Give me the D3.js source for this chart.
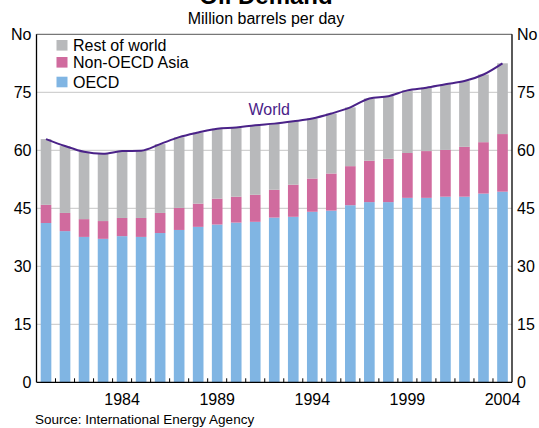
<!DOCTYPE html>
<html><head><meta charset="utf-8">
<script src="https://cdn.jsdelivr.net/npm/d3@7"></script>
<style>
html,body{margin:0;padding:0;background:#fff;}
svg{display:block;font-family:Arial,"Liberation Sans",sans-serif;}
</style></head>
<body><svg id="c" width="539" height="428"></svg>
<script>
const years = d3.range(1980, 2005);
const oecd = [41.2, 39.1, 37.6, 37.1, 37.8, 37.6, 38.6, 39.4, 40.2, 40.8, 41.3, 41.5, 42.6, 42.8, 44.1, 44.4, 45.8, 46.6, 46.6, 47.7, 47.7, 48.0, 48.0, 48.8, 49.3];
const nonOecdAsia = [4.7, 4.7, 4.6, 4.6, 4.7, 4.9, 5.2, 5.7, 6.0, 6.7, 6.7, 7.0, 7.2, 8.3, 8.6, 9.6, 10.1, 10.7, 11.2, 11.6, 12.1, 12.1, 12.9, 13.3, 14.9];
const restOfWorld = [17.0, 17.3, 17.4, 17.4, 17.3, 17.4, 17.8, 18.3, 18.4, 18.1, 17.9, 18.0, 17.1, 16.4, 15.5, 15.5, 15.2, 16.1, 16.2, 16.2, 16.4, 17.0, 17.0, 17.5, 18.3];
const world = [62.9, 61.1, 59.6, 59.1, 59.8, 59.9, 61.6, 63.4, 64.6, 65.6, 65.9, 66.5, 66.9, 67.5, 68.2, 69.5, 71.1, 73.4, 74.0, 75.5, 76.2, 77.1, 77.9, 79.6, 82.5];
const yTicks = [0, 15, 30, 45, 60, 75];
const xLabels = [1984, 1989, 1994, 1999, 2004];
const seriesNames = ["OECD", "Non-OECD Asia", "Rest of world"];
const colors = {"OECD": "#80b5e3", "Non-OECD Asia": "#d06b9e", "Rest of world": "#b8b9bb"};

const svg = d3.select("#c");
const L = 36.5, R = 512, T = 34.3, B = 382.3;
const x = d3.scaleBand().domain(years).range([L, R]).paddingInner(0.44).paddingOuter(0.22);
const y = d3.scaleLinear().domain([0, 90]).range([B, T]);

// titles
svg.append("text").attr("x", 266).attr("y", 4).attr("text-anchor", "middle")
  .attr("font-size", 24).attr("font-weight", "bold").text("Oil Demand");
svg.append("text").attr("x", 266).attr("y", 24).attr("text-anchor", "middle")
  .attr("font-size", 16).text("Million barrels per day");

// gridlines
svg.append("g").selectAll("line").data(yTicks.filter(d => d > 0)).join("line")
  .attr("x1", L).attr("x2", R).attr("y1", d => y(d)).attr("y2", d => y(d))
  .attr("stroke", "#c6c6c6").attr("stroke-width", 1);

// stacked bars
const table = years.map((yr, i) => ({year: yr, "OECD": oecd[i], "Non-OECD Asia": nonOecdAsia[i], "Rest of world": restOfWorld[i]}));
const stack = d3.stack().keys(seriesNames)(table);
svg.append("g").selectAll("g").data(stack).join("g").attr("fill", d => colors[d.key])
  .selectAll("rect").data(d => d).join("rect")
  .attr("x", d => x(d.data.year)).attr("width", x.bandwidth())
  .attr("y", d => y(d[1])).attr("height", d => y(d[0]) - y(d[1]));

// world line
const line = d3.line().x((d, i) => x(years[i]) + x.bandwidth() / 2).y(d => y(d)).curve(d3.curveMonotoneX);
svg.append("path").datum(world).attr("d", line).attr("fill", "none")
  .attr("stroke", "#4a2288").attr("stroke-width", 2);
svg.append("text").attr("x", x(1991) + x.bandwidth() / 2 + 14).attr("y", y(69.2))
  .attr("text-anchor", "middle").attr("font-size", 16).attr("fill", "#4a2288").text("World");

// frame
svg.append("line").attr("x1", L).attr("x2", R).attr("y1", T).attr("y2", T).attr("stroke", "#555").attr("stroke-width", 1);
svg.append("line").attr("x1", L).attr("x2", L).attr("y1", T).attr("y2", B).attr("stroke", "#000").attr("stroke-width", 1.3);
svg.append("line").attr("x1", R).attr("x2", R).attr("y1", T).attr("y2", B).attr("stroke", "#000").attr("stroke-width", 1.3);
svg.append("line").attr("x1", L).attr("x2", R).attr("y1", B).attr("y2", B).attr("stroke", "#000").attr("stroke-width", 1.3);

// x ticks at boundaries (pointing up)
const step = x.step();
svg.append("g").selectAll("line").data(years.slice(1)).join("line")
  .attr("x1", d => x(d) - (step - x.bandwidth()) / 2).attr("x2", d => x(d) - (step - x.bandwidth()) / 2)
  .attr("y1", B).attr("y2", B - 4).attr("stroke", "#000").attr("stroke-width", 1);

// x labels
svg.append("g").selectAll("text").data(xLabels).join("text")
  .attr("x", d => x(d) + x.bandwidth() / 2).attr("y", 405).attr("text-anchor", "middle")
  .attr("font-size", 16).text(d => d);

// y labels both sides
const yl = yTicks.map(v => ({v, t: String(v)})).concat([{v: 90, t: "No"}]);
svg.append("g").selectAll("text").data(yl).join("text")
  .attr("x", L - 5).attr("y", d => y(d.v) + 6).attr("text-anchor", "end")
  .attr("font-size", 16).text(d => d.t);
svg.append("g").selectAll("text").data(yl).join("text")
  .attr("x", R + 5).attr("y", d => y(d.v) + 6).attr("text-anchor", "start")
  .attr("font-size", 16).text(d => d.t);

// legend
const legendItems = [
  {name: "Rest of world", cy: 45.3},
  {name: "Non-OECD Asia", cy: 62.3},
  {name: "OECD", cy: 82}
];
const lg = svg.append("g");
lg.selectAll("rect").data(legendItems).join("rect")
  .attr("x", 56.5).attr("y", d => d.cy - 5.3).attr("width", 11).attr("height", 10.6)
  .attr("fill", d => colors[d.name]);
lg.selectAll("text").data(legendItems).join("text")
  .attr("x", 73).attr("y", d => d.cy + 5.6).attr("font-size", 16).text(d => d.name);

// source
svg.append("text").attr("x", 35).attr("y", 424).attr("font-size", 13.5).text("Source: International Energy Agency");
</script>
</body></html>
